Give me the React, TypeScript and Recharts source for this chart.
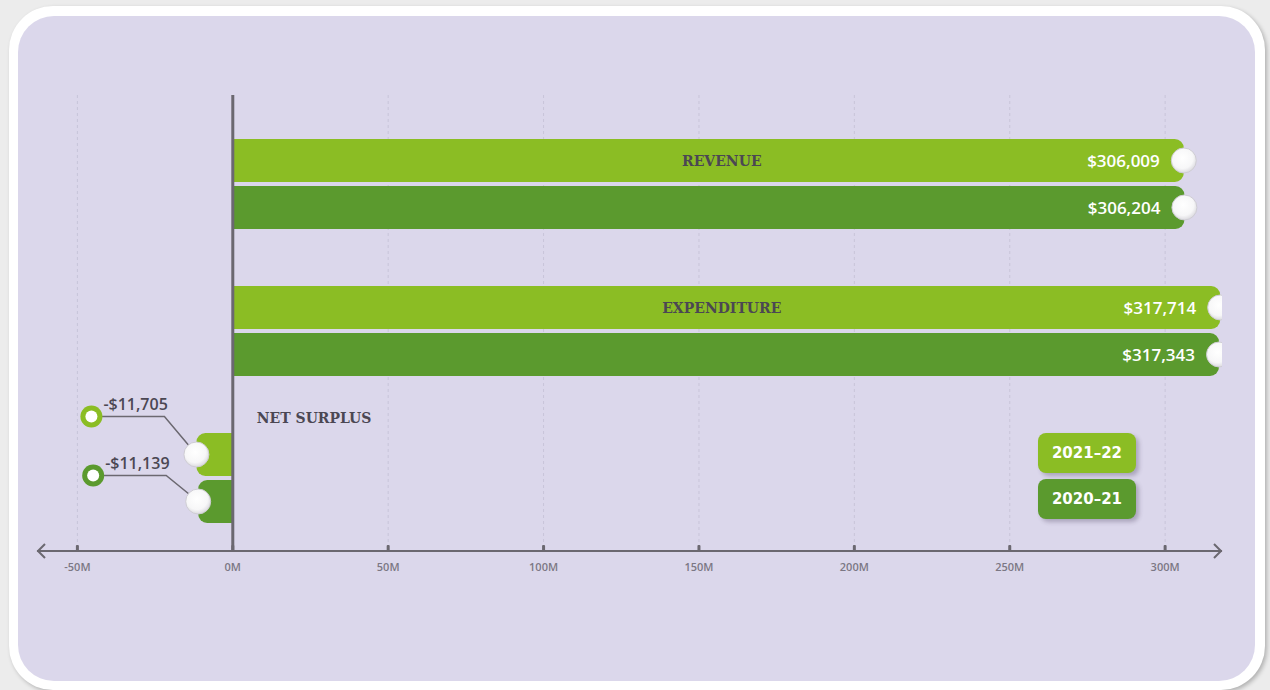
import React from 'react';
import { BarChart, Bar, XAxis, YAxis, CartesianGrid, ReferenceLine } from 'recharts';

const categories = ['REVENUE', 'EXPENDITURE', 'NET SURPLUS'];
const fy2122 = [306.009, 317.714, -11.705];
const fy2021 = [306.204, 317.343, -11.139];
const labels2122 = ['$306,009', '$317,714', '-$11,705'];
const labels2021 = ['$306,204', '$317,343', '-$11,139'];
const xTicks = [-50, 0, 50, 100, 150, 200, 250, 300];
const seriesNames = ['2021–22', '2020–21'];
const seriesColors = ['#8bbd24', '#5b9a2e'];

const data = categories.map((c, i) => ({
  category: c,
  fy2122: fy2122[i],
  fy2021: fy2021[i],
  l2122: labels2122[i],
  l2021: labels2021[i],
}));

const AXIS = '#6b6870';
const TEXT_DARK = '#4b4753';

const makeShape = (key: string, labelKey: string, color: string, isFirst: boolean, calloutDy: number) =>
  (props: any) => {
    const { x, y, width, height, payload } = props;
    const v = payload[key];
    const left = Math.min(x, x + width);
    const right = Math.max(x, x + width);
    const r = 9;
    const h = height;
    const cy = y + h / 2;
    const neg = v < 0;
    const end = neg ? left : right;
    const zero = neg ? right : left;
    const d = neg
      ? `M${right},${y} H${left + r} A${r},${r} 0 0 0 ${left},${y + r} V${y + h - r} A${r},${r} 0 0 0 ${left + r},${y + h} H${right} Z`
      : `M${left},${y} H${right - r} A${r},${r} 0 0 1 ${right},${y + r} V${y + h - r} A${r},${r} 0 0 1 ${right - r},${y + h} H${left} Z`;
    const ringX = end - 105;
    const lineY = cy + calloutDy;
    return (
      <g>
        <defs>
          <radialGradient id="knobGrad" cx="45%" cy="40%" r="60%">
            <stop offset="0%" stopColor="#ffffff" />
            <stop offset="70%" stopColor="#f7f7f8" />
            <stop offset="100%" stopColor="#dcdbe0" />
          </radialGradient>
        </defs>
        <path d={d} fill={color} />
        {isFirst && !neg && (
          <text x={zero + 489} y={cy + 5} textAnchor="middle" fontFamily="DejaVu Serif" fontWeight="bold" fontSize={14} fill={TEXT_DARK}>
            {payload.category}
          </text>
        )}
        {isFirst && neg && (
          <text x={zero + 24} y={y - 10} textAnchor="start" fontFamily="DejaVu Serif" fontWeight="bold" fontSize={14} fill={TEXT_DARK}>
            {payload.category}
          </text>
        )}
        {!neg && (
          <text x={end - 24} y={cy + 6} textAnchor="end" fontFamily="Open Sans" fontWeight={600} fontSize={17} fill="#ffffff">
            {payload[labelKey]}
          </text>
        )}
        {neg && (
          <polyline points={`${end},${cy} ${end - 32},${lineY} ${ringX},${lineY}`} fill="none" stroke={AXIS} strokeWidth={1.5} />
        )}
        <circle cx={end} cy={cy} r={12.5} fill="url(#knobGrad)" stroke="#cfcdd4" strokeWidth={1} />
        {neg && (
          <g>
            <circle cx={ringX} cy={lineY} r={11} fill={color} />
            <circle cx={ringX} cy={lineY} r={6} fill="#ffffff" />
            <text x={ringX + 12} y={lineY - 7} textAnchor="start" fontFamily="Open Sans" fontWeight={600} fontSize={16} fill={TEXT_DARK}>
              {payload[labelKey]}
            </text>
          </g>
        )}
      </g>
    );
  };

const XTick = (props: any) => {
  const { x, y, payload } = props;
  return (
    <g>
      <rect x={x - 1.5} y={y - 6} width={3} height={6} rx={1} fill={AXIS} />
      <text x={x} y={y + 20} textAnchor="middle" fontFamily="Open Sans" fontWeight={600} fontSize={11} fill="#7b7784">
        {`${payload.value}M`}
      </text>
    </g>
  );
};

export default function App() {
  return (
    <div style={{ position: 'absolute', left: 0, top: 0, width: 1270, height: 690, background: '#ececec', overflow: 'hidden' }}>
      <div style={{ position: 'absolute', left: 9, top: 6, width: 1256, height: 684, background: '#ffffff', borderRadius: 44, boxShadow: '2px 2px 4px rgba(0,0,0,0.25)' }} />
      <div style={{ position: 'absolute', left: 18, top: 16, width: 1237, height: 665, background: '#dbd7eb', borderRadius: 36 }} />
      <div style={{ position: 'absolute', left: 0, top: 0 }}>
        <BarChart
          width={1270}
          height={690}
          data={data}
          layout="vertical"
          margin={{ top: 95, right: 48, bottom: 109, left: 37 }}
          barSize={43}
          barGap={4}
        >
          <CartesianGrid horizontal={false} syncWithTicks stroke="#c8c4d9" strokeDasharray="3 3" />
          <XAxis
            type="number"
            domain={[-63, 318.3]}
            ticks={xTicks}
            allowDataOverflow
            axisLine={{ stroke: AXIS, strokeWidth: 2 }}
            tickLine={false}
            tickSize={0}
            tickMargin={0}
            height={30}
            tick={<XTick />}
            interval={0}
          />
          <YAxis type="category" dataKey="category" hide padding={{ top: 15, bottom: 0 }} />
          <Bar dataKey="fy2122" name={seriesNames[0]} fill={seriesColors[0]} isAnimationActive={false}
            shape={makeShape('fy2122', 'l2122', seriesColors[0], true, -38)} />
          <Bar dataKey="fy2021" name={seriesNames[1]} fill={seriesColors[1]} isAnimationActive={false}
            shape={makeShape('fy2021', 'l2021', seriesColors[1], false, -26)} />
          <ReferenceLine x={0} stroke={AXIS} strokeWidth={3} />
        </BarChart>
      </div>
      <svg style={{ position: 'absolute', left: 0, top: 0 }} width={1270} height={690}>
        <polyline points="45,544 38,551 45,558" fill="none" stroke={AXIS} strokeWidth={2} />
        <polyline points="1214,544 1221,551 1214,558" fill="none" stroke={AXIS} strokeWidth={2} />
      </svg>
      {seriesNames.map((n, i) => (
        <div key={n} style={{
          position: 'absolute', left: 1038, top: 433 + i * 46, width: 98, height: 40,
          background: seriesColors[i], borderRadius: 8, boxShadow: '3px 3px 4px rgba(60,50,80,0.3)',
          color: '#ffffff', fontFamily: 'DejaVu Sans', fontWeight: 'bold', fontSize: 15,
          display: 'flex', alignItems: 'center', justifyContent: 'center',
        }}>{n}</div>
      ))}
    </div>
  );
}
